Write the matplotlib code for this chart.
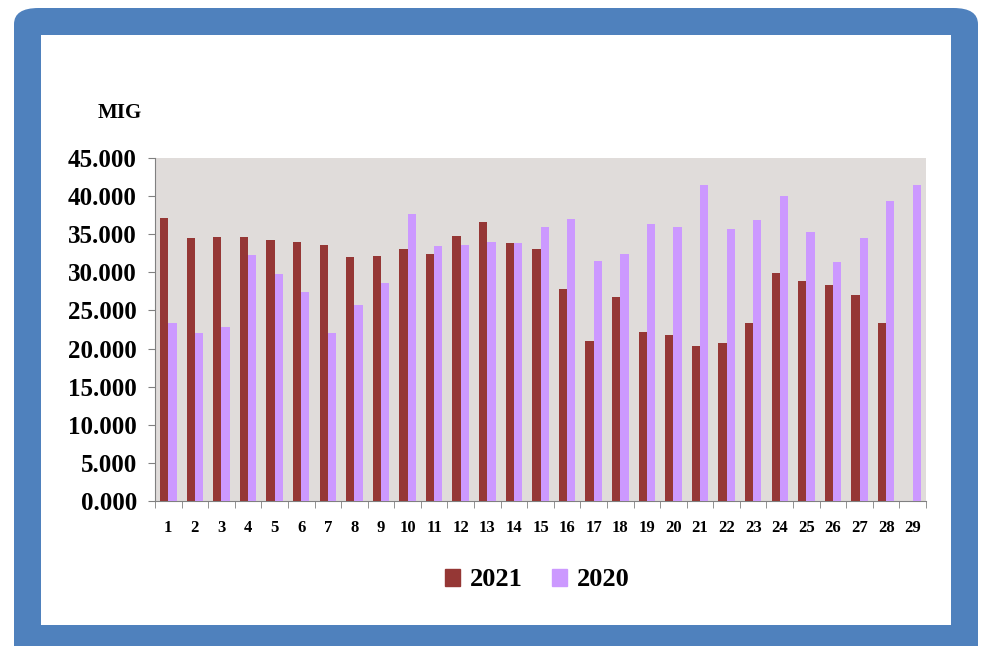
import numpy as np
import matplotlib

matplotlib.use("Agg")
import matplotlib.pyplot as plt
from matplotlib.patches import FancyBboxPatch, Patch

# data (thousands, shown as "45.000" style)
days = [str(i) for i in range(1, 30)]
v2021 = [37.1, 34.5, 34.7, 34.6, 34.2, 34.0, 33.6, 32.0, 32.2, 33.1,
         32.4, 34.8, 36.6, 33.8, 33.1, 27.8, 21.0, 26.8, 22.2, 21.8,
         20.3, 20.7, 23.3, 29.9, 28.9, 28.3, 27.0, 23.3, 0.0]
v2020 = [23.3, 22.1, 22.8, 32.3, 29.8, 27.4, 22.1, 25.7, 28.6, 37.7,
         33.5, 33.6, 34.0, 33.8, 36.0, 37.0, 31.5, 32.4, 36.3, 35.9,
         41.4, 35.7, 36.9, 40.0, 35.3, 31.3, 34.5, 39.4, 41.4]
yticks = np.arange(0, 45.1, 5)

C2021 = "#953735"
C2020 = "#CC99FF"
FONT = "Liberation Serif"

fig = plt.figure(figsize=(9.83, 6.46), dpi=100)
W, H = 983, 646

# blue rounded frame + white panel
frame = FancyBboxPatch((14 / W, -0.05), (978 - 14) / W, (646 - 8) / H + 0.05,
                       boxstyle="round,pad=0,rounding_size=0.025",
                       transform=fig.transFigure, facecolor="#4F81BD",
                       edgecolor="none", zorder=0)
fig.patches.append(frame)
fig.patches.append(plt.Rectangle((41 / W, 1 - 625 / H), (951 - 41) / W, (625 - 35) / H,
                                 transform=fig.transFigure, facecolor="white",
                                 edgecolor="none", zorder=1))

ax = fig.add_axes([155 / W, 1 - 501 / H, 771 / W, (501 - 158) / H])
ax.set_zorder(5)
ax.set_facecolor("#E0DCDA")
x = np.arange(len(days))
bw = 0.31
ax.bar(x - bw / 2, v2021, bw, color=C2021, zorder=3)
ax.bar(x + bw / 2, v2020, bw, color=C2020, zorder=3)

ax.set_xlim(-0.5, len(days) - 0.5)
ax.set_ylim(0, 45)
ax.set_yticks(yticks)
ax.set_yticklabels([f"{int(v)}.000" for v in yticks],
                   fontfamily=FONT, fontweight="bold", fontsize=18)
ax.set_xticks(x)
ax.set_xticklabels(days, fontfamily=FONT, fontweight="bold", fontsize=12)
ax.set_xticks(np.arange(-0.5, len(days), 1), minor=True)
ax.tick_params(axis="x", which="major", length=0, pad=14)
ax.tick_params(axis="x", which="minor", length=5, color="#808080")
ax.tick_params(axis="y", length=5, color="#808080", pad=8)

for s in ["top", "right"]:
    ax.spines[s].set_visible(False)
for s in ["left", "bottom"]:
    ax.spines[s].set_color("#808080")

fig.text(120 / W, 1 - 113 / H, "MIG", fontfamily=FONT, fontweight="bold",
         fontsize=15, ha="center", va="center", zorder=5)

handles = [Patch(color=C2021, label="2021"), Patch(color=C2020, label="2020")]
leg = fig.legend(handles=handles, loc="center", bbox_to_anchor=(537 / W, 1 - 580 / H),
                 ncol=2, frameon=False, handlelength=0.6, handleheight=0.6,
                 handletextpad=0.35, columnspacing=1.1,
                 prop={"family": FONT, "weight": "bold", "size": 19})
leg.set_zorder(5)

fig.savefig("out.png", dpi=100)
